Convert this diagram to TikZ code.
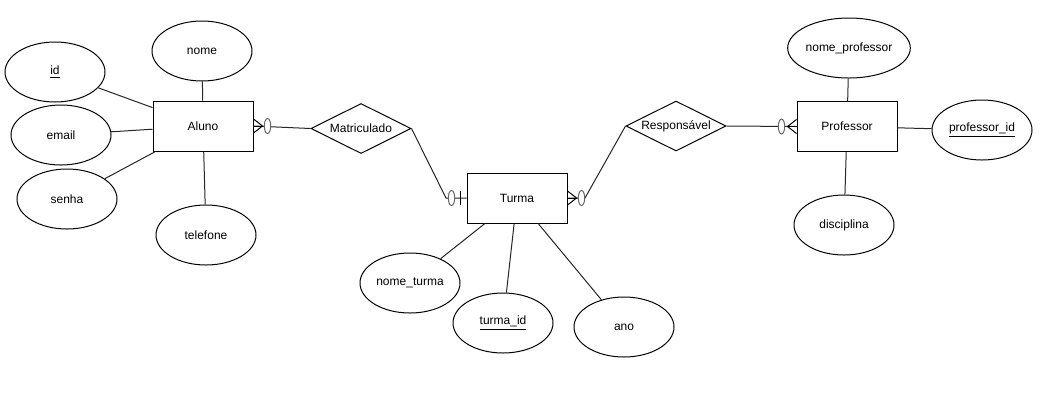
\documentclass[tikz,border=0pt]{standalone}
\usepackage{fontspec}
\setmainfont{Liberation Sans}
\usetikzlibrary{shapes.geometric}
\begin{document}
\begin{tikzpicture}[x=0.75pt,y=-0.75pt,
  every node/.style={font=\fontsize{9}{11}\selectfont},
  entity/.style={draw=black,line width=0.75pt,fill=white,rectangle,minimum width=75pt,minimum height=37.5pt,inner sep=0pt},
  attr/.style={draw=black,line width=0.75pt,fill=white,ellipse,minimum width=75pt,minimum height=45pt,inner sep=0pt},
  rel/.style={draw=black,line width=0.75pt,fill=white,diamond,aspect=2,minimum width=75pt,minimum height=37.5pt,inner sep=0pt},
  conn/.style={draw=black!85,line width=0.75pt},
  ermark/.style={draw=black,line width=0.75pt},
  optc/.style={draw=black!60,line width=0.75pt,fill=white}
]
\useasboundingbox (0,0) rectangle (1044,401);
% entities
\node[entity] (aluno) at (203,126) {Aluno};
\node[entity] (turma) at (517,198) {Turma};
\node[entity] (prof) at (847,126.5) {Professor};
% relationships
\node[rel] (matr) at (361,128.5) {Matriculado};
\node[rel] (resp) at (676,126) {Responsável};
% attributes
\node[attr] (nome) at (202,51) {nome};
\node[attr] (id) at (55,72) {\underline{id}};
\node[attr] (email) at (61,135) {email};
\node[attr] (senha) at (67,199) {senha};
\node[attr] (tel) at (206,235) {telefone};
\node[attr] (nprof) at (849,48) {nome\_professor};
\node[attr] (pid) at (982,130) {\underline{professor\_id}};
\node[attr] (disc) at (844,225) {disciplina};
\node[attr] (nturma) at (410,283) {nome\_turma};
\node[attr] (tid) at (503,323) {\underline{turma\_id}};
\node[attr] (ano) at (624,327) {ano};
% attribute connectors
\draw[conn] (nome) -- (aluno);
\draw[conn] (id) -- (aluno);
\draw[conn] (email) -- (aluno);
\draw[conn] (senha) -- (aluno);
\draw[conn] (tel) -- (aluno);
\draw[conn] (nprof) -- (prof);
\draw[conn] (pid) -- (prof);
\draw[conn] (disc) -- (prof);
\draw[conn] (nturma) -- (turma);
\draw[conn] (tid) -- (turma);
\draw[conn] (ano) -- (turma);
% relationship connectors
\coordinate (c1) at (446,198);
\coordinate (c2) at (585,198);
\draw[conn] (aluno.east) -- (matr.west);
\draw[conn] (matr.east) -- (c1) -- (turma.west);
\draw[conn] (turma.east) -- (c2) -- (resp.west);
\draw[conn] (resp.east) -- (prof.west);
% marks: Aluno (zero or many)
\begin{scope}[shift={(aluno.east)}]
  \draw[ermark] (0,-7) -- (9,0) -- (0,7);
  \draw[ermark] (0,0) -- (9,0);
  \draw[optc] (14,0) ellipse [x radius=3.2, y radius=7.5];
\end{scope}
% marks: Turma west (zero or one)
\begin{scope}[shift={(turma.west)}]
  \draw[ermark] (-6,-7) -- (-6,7);
  \draw[optc] (-15,0) ellipse [x radius=3.2, y radius=7.5];
\end{scope}
% marks: Turma east (zero or many)
\begin{scope}[shift={(turma.east)}]
  \draw[ermark] (0,-7) -- (9,0) -- (0,7);
  \draw[ermark] (0,0) -- (9,0);
  \draw[optc] (14,0) ellipse [x radius=3.2, y radius=7.5];
\end{scope}
% marks: Professor west (zero or many)
\begin{scope}[shift={(prof.west)}]
  \draw[ermark] (0,-7) -- (-9,0) -- (0,7);
  \draw[ermark] (0,0) -- (-9,0);
  \draw[optc] (-15,0) ellipse [x radius=3.2, y radius=7.5];
\end{scope}
\end{tikzpicture}
\end{document}
